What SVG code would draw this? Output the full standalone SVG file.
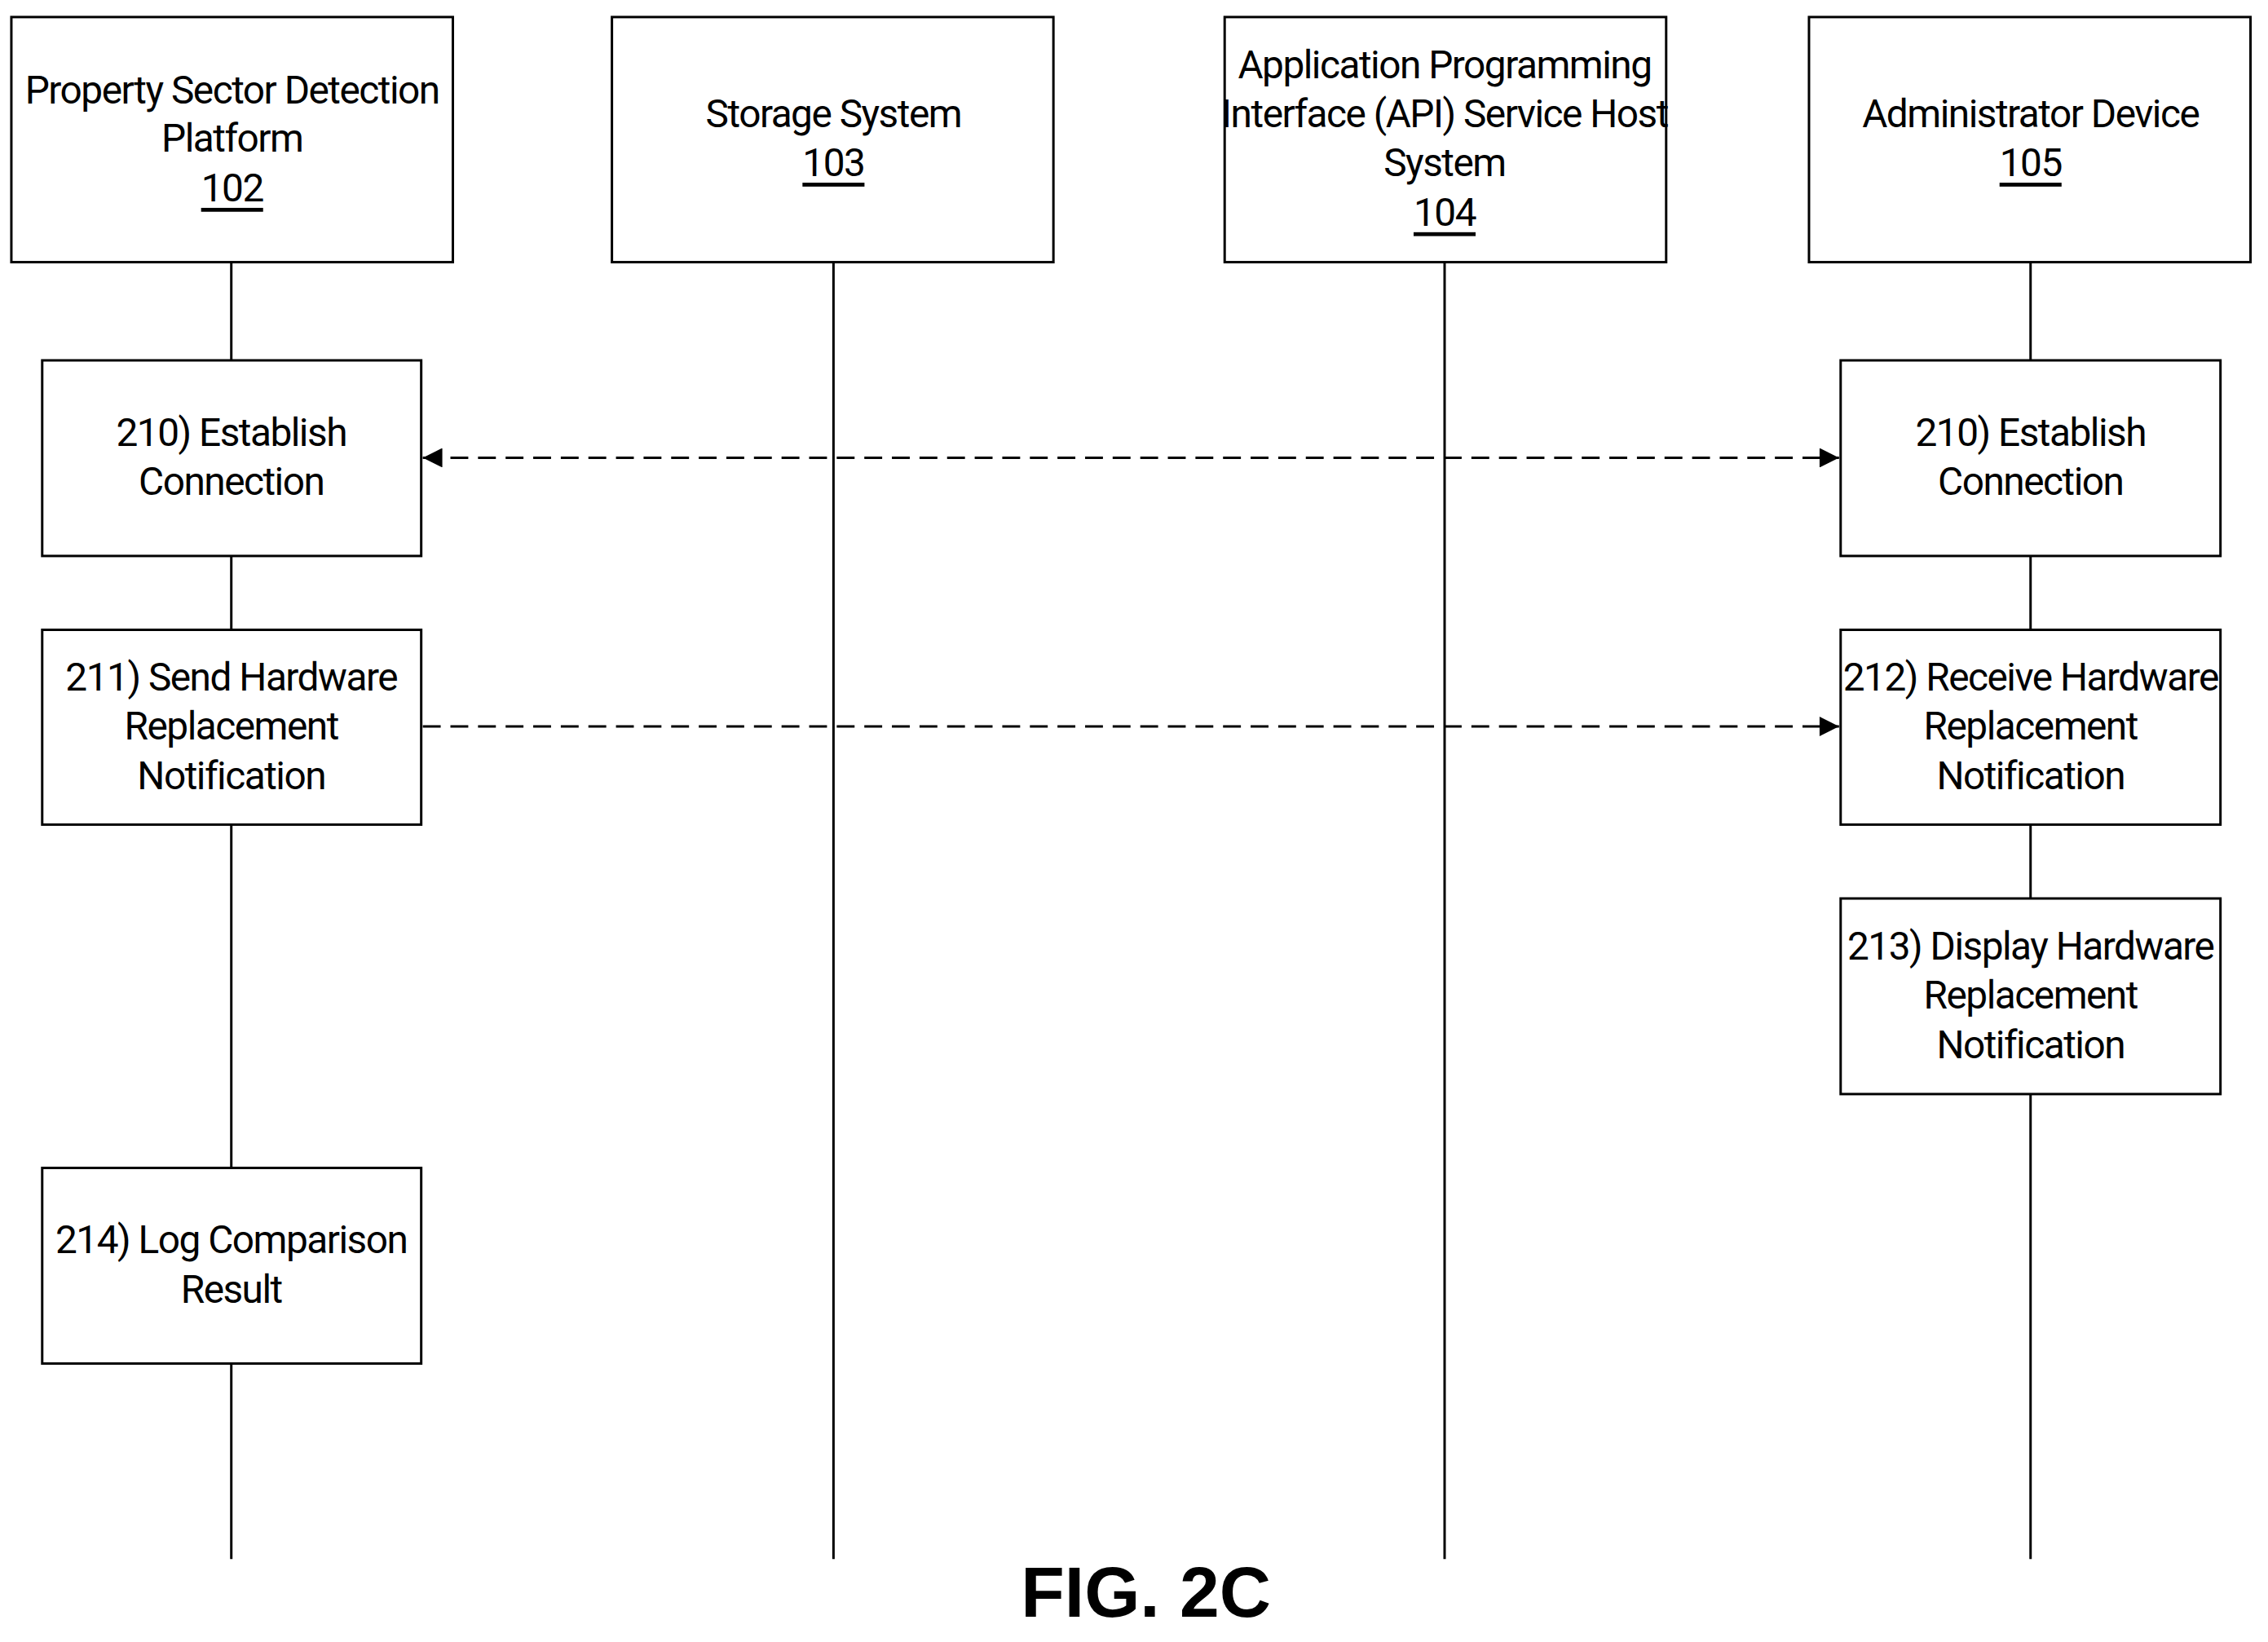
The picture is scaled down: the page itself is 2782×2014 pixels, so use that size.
<svg xmlns="http://www.w3.org/2000/svg" width="2782" height="2014" viewBox="0 0 2782 2014">
<style>
rect{fill:#fff;stroke:#000;stroke-width:3}
.l{stroke:#000;stroke-width:3}
.d{stroke:#000;stroke-width:3;stroke-dasharray:22 12;fill:none}
text{font-family:"Roboto","Liberation Sans",sans-serif;font-size:48px;text-anchor:middle;dominant-baseline:central;letter-spacing:-1.5px}
.u{text-decoration:underline}
</style>
<defs>
<marker id="b" viewBox="0 0 10 10" refX="10" refY="5" markerWidth="28" markerHeight="24" markerUnits="userSpaceOnUse" orient="auto-start-reverse"><path d="M0,0L10,5L0,10z" fill="#000"/></marker></defs>
<g transform="scale(0.9955)">
<g id="lifelines">
<line class="l" x1="285" y1="323" x2="285" y2="1921"/>
<line class="l" x1="1027" y1="323" x2="1027" y2="1921"/>
<line class="l" x1="1780" y1="323" x2="1780" y2="1921"/>
<line class="l" x1="2502" y1="323" x2="2502" y2="1921"/>
</g>
<g id="n102"><rect x="14" y="21" width="544" height="302"/><text x="286" y="111">Property Sector Detection</text><text x="286" y="171">Platform</text><text x="286" y="232" class="u">102</text></g>
<g id="n103"><rect x="754" y="21" width="544" height="302"/><text x="1027" y="141">Storage System</text><text x="1027" y="201" class="u">103</text></g>
<g id="n104"><rect x="1509" y="21" width="544" height="302"/><text x="1780" y="80">Application Programming</text><text x="1780" y="141">Interface (API) Service Host</text><text x="1780" y="201">System</text><text x="1780" y="262" class="u">104</text></g>
<g id="n105"><rect x="2229" y="21" width="544" height="302"/><text x="2502" y="141">Administrator Device</text><text x="2502" y="201" class="u">105</text></g>
<g id="s210a"><rect x="52" y="444" width="467" height="241"/><text x="285" y="533">210) Establish</text><text x="285" y="594">Connection</text></g>
<g id="s210b"><rect x="2268" y="444" width="468" height="241"/><text x="2502" y="533">210) Establish</text><text x="2502" y="594">Connection</text></g>
<g id="s211"><rect x="52" y="776" width="467" height="240"/><text x="285" y="835">211) Send Hardware</text><text x="285" y="895">Replacement</text><text x="285" y="956">Notification</text></g>
<g id="s212"><rect x="2268" y="776" width="468" height="240"/><text x="2502" y="835">212) Receive Hardware</text><text x="2502" y="895">Replacement</text><text x="2502" y="956">Notification</text></g>
<g id="s213"><rect x="2268" y="1107" width="468" height="241"/><text x="2502" y="1166">213) Display Hardware</text><text x="2502" y="1227">Replacement</text><text x="2502" y="1288">Notification</text></g>
<g id="s214"><rect x="52" y="1439" width="467" height="241"/><text x="285" y="1528">214) Log Comparison</text><text x="285" y="1589">Result</text></g>
<g id="connectors">
<line class="d" x1="521" y1="564" x2="2266" y2="564" marker-start="url(#b)" marker-end="url(#b)"/>
<line class="d" x1="521" y1="895" x2="2266" y2="895" marker-end="url(#b)"/>
</g>
<text x="1412" y="1962" style="font-family:'Liberation Sans',sans-serif;font-size:88px;font-weight:bold;letter-spacing:0">FIG. 2C</text>
</g>
</svg>
